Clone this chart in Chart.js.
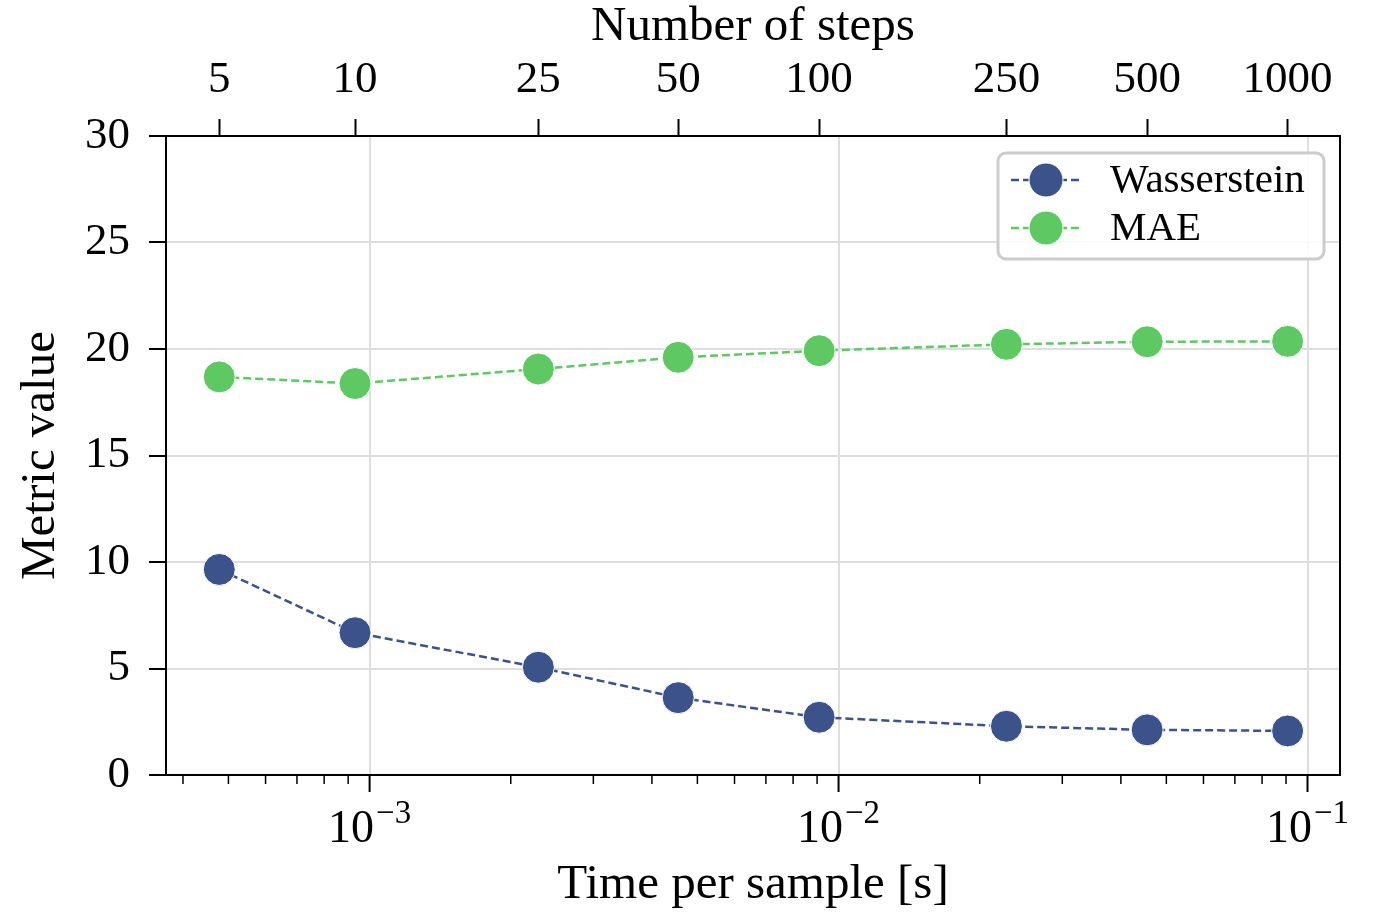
<!DOCTYPE html>
<html>
<head>
<meta charset="utf-8">
<script src="https://cdn.jsdelivr.net/npm/chart.js@4.4.1/dist/chart.umd.min.js"></script>
<style>
  html, body { margin: 0; padding: 0; background: #fff; }
</style>
</head>
<body>
<canvas id="chart" width="1375" height="914"></canvas>
<script>
// data
const steps = [5, 10, 25, 50, 100, 250, 500, 1000];
const timePerSample = [4.78e-4, 9.31e-4, 2.29e-3, 4.55e-3, 9.09e-3, 2.28e-2, 4.55e-2, 9.07e-2];
const wasserstein = [9.65, 6.68, 5.06, 3.63, 2.71, 2.29, 2.12, 2.07];
const mae = [18.69, 18.38, 19.06, 19.61, 19.92, 20.22, 20.34, 20.36];
const yTicks = [0, 5, 10, 15, 20, 25, 30];
const decadeTicks = [1e-3, 1e-2, 1e-1];

const xMin = 3.68e-4;
const xMax = 0.1173;
const SERIF = '"Liberation Serif", "DejaVu Serif", serif';
const font = { family: SERIF, size: 45, lineHeight: 1.2 };
const titleFont = { family: SERIF, size: 49, lineHeight: 1.1 };
const gridColor = '#dedede';

// minor + major ticks for the log axis (1..9 per decade)
const logTicks = [];
for (let e = -4; e <= -1; e++) {
    for (let k = 1; k <= 9; k++) {
        const v = Number((k * Math.pow(10, e)).toPrecision(3));
        if (v >= xMin && v <= xMax) logTicks.push(v);
    }
}

const toPoints = (ys) => ys.map((y, i) => ({ x: timePerSample[i], y }));

const decorations = {
    id: 'decorations',
    afterDatasetsDraw(chart) {
        const { ctx, chartArea: a, scales: { x } } = chart;
        ctx.save();

        // frame
        ctx.strokeStyle = '#000';
        ctx.lineWidth = 2;
        ctx.strokeRect(a.left, a.top, a.right - a.left, a.bottom - a.top);

        // bottom ticks and 10^n labels
        x.ticks.forEach(t => {
            const px = x.getPixelForValue(t.value);
            ctx.lineWidth = t.major ? 2 : 1.5;
            ctx.beginPath();
            ctx.moveTo(px, a.bottom);
            ctx.lineTo(px, a.bottom + (t.major ? 17 : 9));
            ctx.stroke();
            if (!t.major) return;
            const exp = Math.round(Math.log10(t.value));
            const sup = (exp < 0 ? '\u2212' : '') + Math.abs(exp);
            ctx.font = `46px ${SERIF}`;
            const wb = ctx.measureText('10').width;
            ctx.font = `33px ${SERIF}`;
            const ws = ctx.measureText(sup).width;
            const x0 = px - (wb + ws + 2) / 2;
            ctx.fillStyle = '#000';
            ctx.textAlign = 'left';
            ctx.textBaseline = 'alphabetic';
            ctx.font = `46px ${SERIF}`;
            ctx.fillText('10', x0, a.bottom + 67);
            ctx.font = `33px ${SERIF}`;
            ctx.fillText(sup, x0 + wb + 2, a.bottom + 48);
        });

        // legend box in upper right
        const bw = 326, bh = 106;
        const bx = a.right - 16 - bw, by = a.top + 17;
        ctx.beginPath();
        ctx.roundRect(bx, by, bw, bh, 8);
        ctx.fillStyle = 'rgba(255,255,255,0.85)';
        ctx.fill();
        ctx.lineWidth = 3;
        ctx.strokeStyle = '#cccccc';
        ctx.stroke();

        chart.data.datasets.forEach((ds, i) => {
            const cy = by + 27 + i * 48;
            ctx.strokeStyle = ds.borderColor;
            ctx.lineWidth = ds.borderWidth;
            ctx.setLineDash(ds.borderDash);
            ctx.beginPath();
            ctx.moveTo(bx + 13, cy);
            ctx.lineTo(bx + 82, cy);
            ctx.stroke();
            ctx.setLineDash([]);
            ctx.beginPath();
            ctx.arc(bx + 48, cy, 17, 0, Math.PI * 2);
            ctx.fillStyle = ds.backgroundColor;
            ctx.fill();
            ctx.lineWidth = 1;
            ctx.strokeStyle = '#fff';
            ctx.stroke();
            ctx.fillStyle = '#000';
            ctx.font = `41px ${SERIF}`;
            ctx.textAlign = 'left';
            ctx.textBaseline = 'middle';
            ctx.fillText(ds.label, bx + 112, cy + 1);
        });

        ctx.restore();
    }
};

function seriesStyle(color) {
    return {
        borderColor: color,
        backgroundColor: color,
        borderWidth: 2.5,
        borderDash: [8, 4],
        pointRadius: 16,
        pointHoverRadius: 16,
        pointBorderColor: '#ffffff',
        pointBorderWidth: 1,
        pointBackgroundColor: color,
        tension: 0,
        fill: false
    };
}

new Chart(document.getElementById('chart'), {
    type: 'line',
    data: {
        datasets: [
            { label: 'Wasserstein', data: toPoints(wasserstein), ...seriesStyle('#3b528b') },
            { label: 'MAE', data: toPoints(mae), ...seriesStyle('#5ec962') }
        ]
    },
    options: {
        responsive: false,
        animation: false,
        devicePixelRatio: 1,
        layout: { padding: { left: 0, right: 35, top: 0, bottom: 0 } },
        plugins: { legend: { display: false }, tooltip: { enabled: false } },
        scales: {
            x: {
                type: 'logarithmic',
                position: 'bottom',
                min: xMin,
                max: xMax,
                afterBuildTicks: s => {
                    s.ticks = logTicks.map(v => ({ value: v, major: decadeTicks.includes(v) }));
                },
                afterFit: s => { s.height = 139; },
                ticks: { display: false },
                grid: {
                    drawTicks: false,
                    lineWidth: 2,
                    color: c => (c.tick && c.tick.major ? gridColor : 'rgba(0,0,0,0)')
                },
                border: { display: false },
                title: {
                    display: true,
                    text: 'Time per sample [s]',
                    font: titleFont,
                    color: '#000',
                    padding: { top: 0, bottom: 2 }
                }
            },
            x2: {
                type: 'logarithmic',
                position: 'top',
                min: xMin,
                max: xMax,
                afterBuildTicks: s => {
                    s.ticks = timePerSample.map(v => ({ value: v }));
                },
                afterFit: s => { s.height = 136; },
                ticks: {
                    callback: (v, i) => String(steps[i]),
                    font,
                    color: '#000',
                    padding: 12,
                    autoSkip: false,
                    maxRotation: 0,
                    minRotation: 0
                },
                grid: {
                    drawOnChartArea: false,
                    drawTicks: true,
                    tickLength: 17,
                    tickWidth: 2,
                    tickColor: '#000'
                },
                border: { display: false },
                title: {
                    display: true,
                    text: 'Number of steps',
                    font: titleFont,
                    color: '#000',
                    padding: { top: 0, bottom: 0 }
                }
            },
            y: {
                min: 0,
                max: 30,
                afterBuildTicks: s => {
                    s.ticks = yTicks.map(v => ({ value: v }));
                },
                afterFit: s => { s.width = 166; },
                ticks: { font, color: '#000', padding: 19 },
                grid: {
                    color: gridColor,
                    lineWidth: 2,
                    tickLength: 17,
                    tickWidth: 2,
                    tickColor: '#000'
                },
                border: { display: false },
                title: {
                    display: true,
                    text: 'Metric value',
                    font: titleFont,
                    color: '#000',
                    padding: { top: 14, bottom: 0 }
                }
            }
        }
    },
    plugins: [decorations]
});
</script>
</body>
</html>
